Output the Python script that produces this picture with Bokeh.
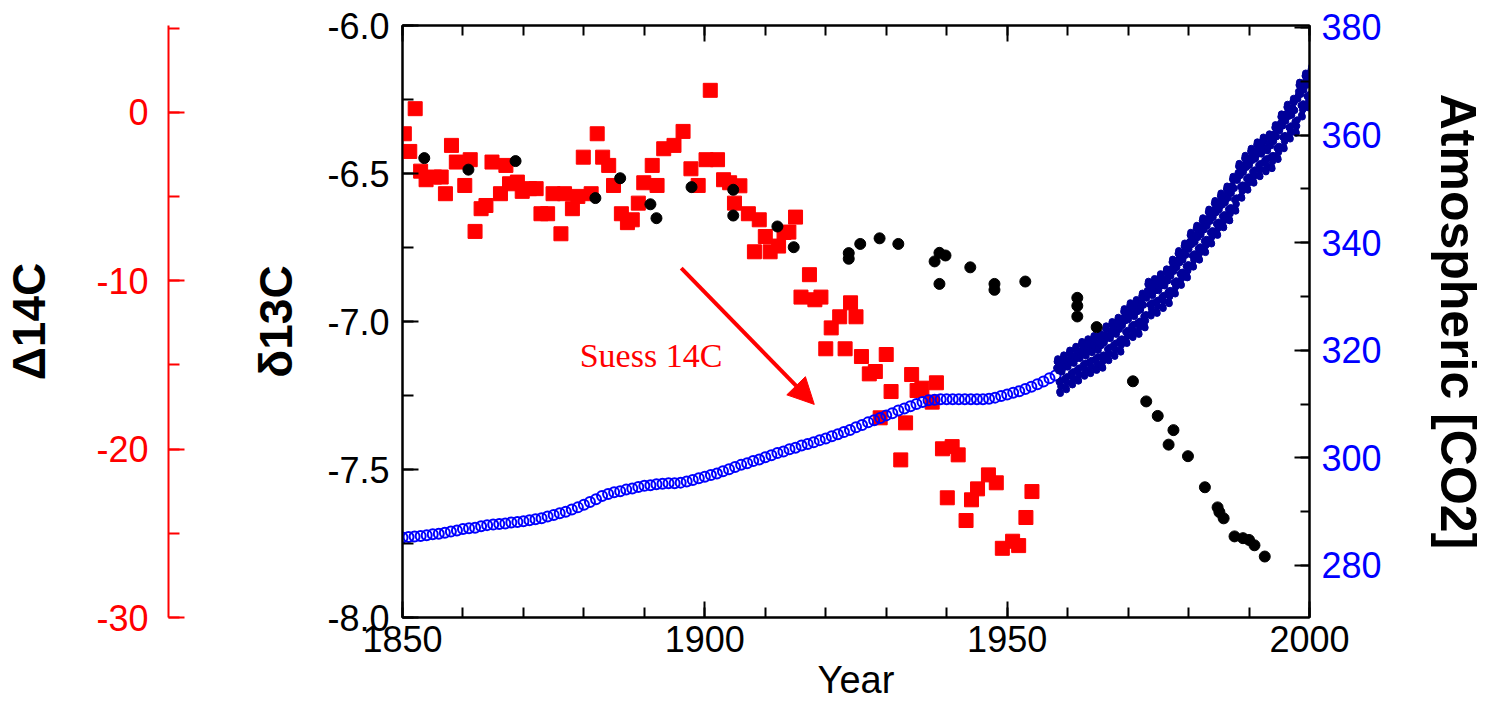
from bokeh.plotting import figure
from bokeh.models import (LinearAxis, Range1d, Arrow, NormalHead, Label,
                          SingleIntervalTicker, FixedTicker, PrintfTickFormatter)
from bokeh.embed import file_html
from bokeh.resources import INLINE

# ---------------- data ----------------
# Delta 14C (red squares, left red axis)
d14c_year = [1850.3, 1851.2, 1852.1, 1853.0, 1853.9, 1855.3, 1856.4, 1857.1, 1858.1, 1858.9,
             1860.3, 1861.2, 1862.0, 1863.0, 1863.8, 1864.8, 1866.2, 1867.1, 1867.7, 1869.0,
             1869.8, 1871.0, 1872.1, 1872.9, 1874.0, 1874.9, 1876.2, 1876.8, 1878.1, 1879.0,
             1879.9, 1881.2, 1882.2, 1883.1, 1884.1, 1884.9, 1886.2, 1887.2, 1888.0, 1889.0,
             1889.9, 1891.3, 1892.1, 1893.2, 1894.9, 1896.4, 1897.7, 1898.9, 1900.2, 1900.9,
             1902.1, 1903.1, 1904.1, 1904.9, 1905.8, 1907.2, 1908.2, 1909.0, 1910.0, 1910.8,
             1912.2, 1913.1, 1913.9, 1915.0, 1915.9, 1917.3, 1918.2, 1919.2, 1920.0, 1920.9,
             1922.3, 1923.2, 1924.1, 1925.0, 1925.9, 1927.2, 1928.2, 1929.0, 1930.0, 1930.8,
             1932.4, 1933.2, 1934.2, 1935.1, 1935.9, 1937.6, 1938.3, 1939.3, 1940.1, 1940.9,
             1941.9, 1943.2, 1944.1, 1945.1, 1946.9, 1948.2, 1949.2, 1950.9, 1951.9, 1953.1,
             1954.1]
d14c_val = [-1.27, -2.32, 0.22, -3.49, -4.00, -3.84, -3.84, -4.83, -1.96, -2.95,
            -4.34, -2.81, -7.07, -5.72, -5.53, -2.95, -4.83, -3.15, -4.24, -4.14,
            -4.69, -4.53, -4.53, -6.02, -6.02, -4.83, -7.21, -4.83, -5.72, -4.99,
            -2.66, -4.83, -1.27, -2.66, -3.15, -4.34, -6.02, -6.55, -6.38, -5.39,
            -4.18, -3.15, -4.34, -2.16, -1.96, -1.13, -3.35, -4.34, -2.81, 1.31,
            -2.81, -4.00, -4.18, -5.39, -4.36, -6.02, -8.28, -6.38, -7.37, -8.28,
            -7.94, -7.13, -7.11, -6.22, -10.97, -9.64, -11.13, -10.97, -14.04, -12.80,
            -12.14, -14.04, -11.31, -12.14, -14.50, -15.53, -15.39, -18.14, -14.38, -16.58,
            -20.64, -18.44, -15.57, -16.52, -16.38, -17.21, -16.06, -19.98, -22.89, -19.85,
            -20.34, -24.24, -23.01, -22.36, -21.53, -22.00, -25.89, -25.47, -25.73, -24.06,
            -22.52]

# delta 13C (black dots, left black axis)
d13c_year = [1853.6, 1860.9, 1868.7, 1881.9, 1886.0, 1891.0, 1892.0, 1897.8, 1904.7, 1904.7,
             1912.0, 1914.7, 1923.8, 1923.8, 1925.7, 1928.9, 1932.0, 1938.0, 1938.8, 1938.8,
             1939.8, 1943.9, 1947.9, 1947.9, 1953.0, 1961.6, 1961.6, 1961.6, 1964.8, 1970.8,
             1973.0, 1974.9, 1976.7, 1977.5, 1979.9, 1982.7, 1984.8, 1985.1, 1985.8, 1987.6,
             1989.0, 1990.0, 1990.9, 1992.6]
d13c_val = [-6.448, -6.487, -6.458, -6.583, -6.516, -6.604, -6.651, -6.546, -6.555, -6.642,
            -6.679, -6.749, -6.769, -6.788, -6.738, -6.719, -6.738, -6.797, -6.768, -6.873,
            -6.777, -6.817, -6.873, -6.893, -6.865, -6.920, -6.947, -6.983, -7.019, -7.202,
            -7.270, -7.319, -7.416, -7.367, -7.455, -7.560, -7.628, -7.644, -7.665, -7.726,
            -7.732, -7.738, -7.756, -7.794]

# Atmospheric CO2, ice core (open blue circles), annual 1850-1958
ice_year = list(range(1850, 1959))
ice_co2 = [285.2, 285.3, 285.4, 285.5, 285.6, 285.8, 285.9, 286.1, 286.3, 286.5,
           286.8, 286.9, 287.0, 287.3, 287.5, 287.6, 287.7, 287.8, 288.0, 288.1,
           288.2, 288.4, 288.6, 288.8, 289.1, 289.4, 289.7, 290.0, 290.4, 290.8,
           291.3, 291.8, 292.3, 292.9, 293.3, 293.6, 293.8, 294.1, 294.3, 294.6,
           294.8, 294.9, 295.1, 295.2, 295.3, 295.3, 295.4, 295.6, 295.9, 296.2,
           296.5, 296.8, 297.1, 297.5, 297.9, 298.3, 298.7, 299.0, 299.4, 299.7,
           300.1, 300.5, 300.9, 301.2, 301.6, 301.9, 302.3, 302.6, 302.9, 303.3,
           303.6, 304.0, 304.4, 304.8, 305.2, 305.7, 306.1, 306.6, 307.0, 307.4,
           307.9, 308.3, 308.8, 309.2, 309.6, 310.0, 310.4, 310.7, 310.8, 310.9,
           310.9, 310.9, 310.9, 310.9, 310.9, 310.9, 310.9, 311.0, 311.2, 311.5,
           311.8, 312.1, 312.4, 312.8, 313.2, 313.7, 314.2, 314.8, 315.3]

# Atmospheric CO2, direct measurements (dark blue dots): annual level + monthly cycle
ml_years = list(range(1958, 2001))
ml_annual = [315.3, 316.0, 316.9, 317.6, 318.5, 319.0, 319.6, 320.0, 321.4, 322.2,
             323.0, 324.6, 325.7, 326.3, 327.5, 329.7, 330.2, 331.1, 332.0, 333.8,
             335.4, 336.8, 338.8, 340.1, 341.5, 343.1, 344.7, 346.1, 347.4, 349.2,
             351.6, 353.1, 354.4, 355.6, 356.5, 357.1, 358.8, 360.8, 362.6, 363.7,
             366.7, 368.4, 369.6]
ml_month_offset = [0.0, 0.6, 1.4, 2.6, 3.1, 2.4, 0.9, -1.2, -3.0, -3.3, -2.0, -0.9]

x_ticks_major = 50
annotation_text = "Suess 14C"
arrow_from = (1896.1, -6.82)
arrow_to = (1918.1, -7.28)
text_at = (1879.3, -7.115)

ml_x, ml_y = [], []
for yi, yr in enumerate(ml_years):
    for m in range(12):
        if yr == 1958 and m < 2:
            continue
        ml_x.append(yr + (m + 0.5) / 12.0)
        ml_y.append(ml_annual[yi] + ml_month_offset[m])

# ---------------- figure ----------------
FONT = "Liberation Sans"
TICK_FS = "36px"

p = figure(frame_width=907, frame_height=592,
           x_range=Range1d(1850, 2000), y_range=Range1d(-8.0, -6.0),
           output_backend="svg", toolbar_location=None,
           min_border_left=0, min_border_right=0, min_border_top=25, min_border_bottom=0,
           background_fill_color="white", border_fill_color="white")
p.grid.visible = False
p.outline_line_color = "black"
p.outline_line_width = 2
p.extra_y_ranges = {"d14c": Range1d(-30.0, 5.16), "co2": Range1d(270.33, 380.37)}


def style(ax, line_color="black", label_color="black", tin=15, mtin=9):
    ax.axis_line_color = line_color
    ax.axis_line_width = 2
    ax.major_tick_line_color = line_color
    ax.major_tick_line_width = 2
    ax.minor_tick_line_color = line_color
    ax.minor_tick_line_width = 2
    ax.major_tick_in = tin
    ax.major_tick_out = 0
    ax.minor_tick_in = mtin
    ax.minor_tick_out = 0
    ax.major_label_text_font = FONT
    ax.major_label_text_font_size = TICK_FS
    ax.major_label_text_color = label_color
    ax.axis_label_text_font = FONT
    ax.axis_label_text_font_style = "bold"
    ax.axis_label_text_color = "black"


# bottom axis
xax = p.below[0]
xax.ticker = SingleIntervalTicker(interval=x_ticks_major, num_minor_ticks=5)
xax.formatter = PrintfTickFormatter(format="%d")
style(xax, tin=16, mtin=10)
xax.major_label_standoff = 8
xax.axis_label = "Year"
xax.axis_label_text_font_style = "normal"
xax.axis_label_text_font_size = "38px"
xax.axis_label_standoff = 4

# top axis (ticks only, labels not drawn)
top = LinearAxis(ticker=SingleIntervalTicker(interval=x_ticks_major, num_minor_ticks=5))
style(top, tin=16, mtin=10)
top.major_label_text_font_size = "1px"
top.major_label_text_color = None
top.major_label_standoff = 0
p.add_layout(top, "above")

# left black axis (delta 13C)
yax = p.left[0]
yax.ticker = SingleIntervalTicker(interval=0.5, num_minor_ticks=2)
yax.formatter = PrintfTickFormatter(format="%.1f")
style(yax, tin=16, mtin=11)
yax.major_label_standoff = 13
yax.axis_label = "δ13C"
yax.axis_label_text_font_size = "46px"
yax.axis_label_standoff = 22

# empty gap between the two left axes
spacer = LinearAxis(y_range_name="d14c", ticker=FixedTicker(ticks=[]))
spacer.axis_line_color = None
spacer.major_tick_line_color = None
spacer.minor_tick_line_color = None
spacer.major_tick_out = 0
spacer.minor_tick_out = 0
spacer.major_label_text_font_size = "1px"
spacer.major_label_text_color = None
spacer.major_label_standoff = 0
spacer.axis_label = "."
spacer.axis_label_text_color = None
spacer.axis_label_text_font_size = "10px"
spacer.axis_label_standoff = 68
p.add_layout(spacer, "left")

# left red axis (Delta 14C)
red = LinearAxis(y_range_name="d14c",
                 ticker=SingleIntervalTicker(interval=10, num_minor_ticks=2),
                 formatter=PrintfTickFormatter(format="%d"))
style(red, line_color="red", label_color="red", tin=16, mtin=11)
red.major_label_standoff = 20
red.axis_label = "Δ14C"
red.axis_label_text_font_size = "46px"
red.axis_label_standoff = 38
p.add_layout(red, "left")

# right axis (CO2)
right = LinearAxis(y_range_name="co2",
                   ticker=SingleIntervalTicker(interval=20, num_minor_ticks=2),
                   formatter=PrintfTickFormatter(format="%d"))
style(right, line_color="black", label_color="#0000FF", tin=15, mtin=9)
right.major_label_standoff = 12
right.axis_label = "Atmospheric [CO2]"
right.axis_label_text_font_size = "50px"
right.axis_label_standoff = 45
p.add_layout(right, "right")

# ---------------- glyphs ----------------
p.scatter(d14c_year, d14c_val, y_range_name="d14c", marker="square", size=14,
          fill_color="#FF0000", line_color="#FF0000")
p.scatter(ice_year, ice_co2, y_range_name="co2", marker="circle", size=10,
          fill_color=None, line_color="#0000FF", line_width=2)
p.scatter(ml_x, ml_y, y_range_name="co2", marker="circle", size=6.5,
          fill_color="#000099", line_color="#000099")
p.scatter(d13c_year, d13c_val, marker="circle", size=11,
          fill_color="black", line_color="black")

p.add_layout(Arrow(end=NormalHead(size=26, fill_color="#FF0000", line_color="#FF0000"),
                   x_start=arrow_from[0], y_start=arrow_from[1],
                   x_end=arrow_to[0], y_end=arrow_to[1],
                   line_color="#FF0000", line_width=4))
p.add_layout(Label(x=text_at[0], y=text_at[1], text=annotation_text,
                   text_font="Liberation Serif", text_font_size="34px",
                   text_color="#FF0000", text_baseline="middle"))

open("out.html", "w").write(file_html(p, INLINE))
